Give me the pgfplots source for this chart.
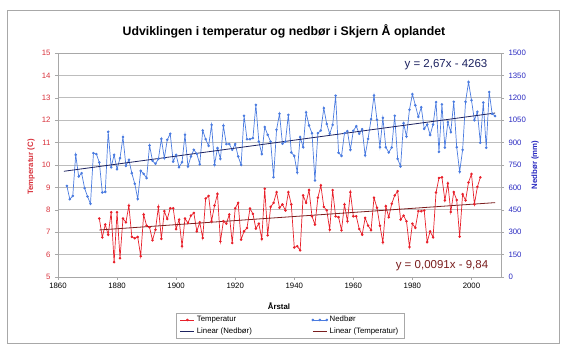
\documentclass[border=0pt]{standalone}
\usepackage{pgfplots}
\pgfplotsset{compat=1.18}
\usepackage{fontspec}
\setmainfont{Liberation Sans}
\definecolor{tempred}{HTML}{E8202A}
\definecolor{precblue}{HTML}{4A7BE0}
\definecolor{trendblue}{HTML}{1C2260}
\definecolor{trendred}{HTML}{7A1E1E}
\definecolor{lblred}{HTML}{D8303A}
\definecolor{lblblue}{HTML}{2828C0}
\definecolor{gridgray}{HTML}{BDBDBD}
\definecolor{framegray}{HTML}{A8A8A8}

\begin{document}
\begin{tikzpicture}[x=1pt,y=1pt]
\path (0,0) rectangle (570,353);
\draw[framegray, line width=0.6pt] (7,10) rectangle (559,343);

\begin{axis}[
  at={(58pt,76pt)}, anchor=south west, scale only axis,
  width=443pt, height=224pt,
  xmin=1860, xmax=2010, ymin=5, ymax=15,
  xtick={1860,1880,...,2000}, ytick={5,6,...,15},
  xtick pos=bottom, ytick pos=left,
  tick align=outside, major tick length=3pt,
  tick style={framegray, line width=0.5pt},
  axis line style={framegray, line width=0.6pt},
  ymajorgrids, grid style={gridgray, line width=0.6pt},
  /pgf/number format/assume math mode=true,
  /pgf/number format/1000 sep={},
  ticklabel style={font=\fontsize{7.8}{9}\selectfont},
  yticklabel style={text=lblred, xshift=-1pt},
  xticklabel style={text=black},
  clip=false,
]
\addplot[tempred, line width=0.7pt, mark=*, mark size=0.9pt] coordinates {
(1874,7.61) (1875,6.77) (1876,7.34) (1877,6.89) (1878,7.89) (1879,5.66) (1880,7.89) (1881,5.84) (1882,7.61) (1883,7.44)
(1884,8.19) (1885,6.79) (1886,6.73) (1887,6.79) (1888,5.93) (1889,7.79) (1890,7.29) (1891,7.22) (1892,6.64) (1893,7.11)
(1894,8.13) (1895,6.70) (1896,7.94) (1897,7.59) (1898,8.07) (1899,8.07) (1900,7.14) (1901,7.56) (1902,6.37) (1903,7.61)
(1904,7.41) (1905,7.74) (1906,7.86) (1907,7.04) (1908,7.44) (1909,6.74) (1910,8.50) (1911,8.62) (1912,7.49) (1913,8.19)
(1914,8.71) (1915,6.59) (1916,7.49) (1917,7.38) (1918,7.79) (1919,6.52) (1920,8.07) (1921,8.31) (1922,6.67) (1923,7.04)
(1924,7.19) (1925,8.06) (1926,7.82) (1927,7.16) (1928,7.38) (1929,6.70) (1930,8.94) (1931,6.86) (1932,8.13) (1933,8.31)
(1934,8.79) (1935,8.09) (1936,8.24) (1937,7.97) (1938,8.79) (1939,8.24) (1940,6.32) (1941,6.37) (1942,6.19) (1943,8.64)
(1944,8.31) (1945,8.88) (1946,7.71) (1947,7.34) (1948,8.54) (1949,9.09) (1950,8.13) (1951,7.98) (1952,7.11) (1953,8.88)
(1954,7.71) (1955,7.67) (1956,7.09) (1957,8.24) (1958,7.49) (1959,8.79) (1960,7.71) (1961,7.71) (1962,7.14) (1963,6.89)
(1964,7.64) (1965,7.29) (1966,7.09) (1967,8.54) (1968,8.09) (1969,7.29) (1970,6.55) (1971,8.16) (1972,7.67) (1973,8.27)
(1974,8.64) (1975,8.83) (1976,7.56) (1977,7.74) (1978,7.49) (1979,6.34) (1980,7.38) (1981,7.19) (1982,7.94) (1983,7.94)
(1984,7.97) (1985,6.56) (1986,7.04) (1987,6.77) (1988,8.77) (1989,9.42) (1990,9.45) (1991,8.42) (1992,9.18) (1993,7.90)
(1994,8.79) (1995,8.44) (1996,6.80) (1997,8.70) (1998,8.42) (1999,9.22) (2000,9.60) (2001,8.25) (2002,9.02) (2003,9.45)
};
\addplot[trendred, line width=0.8pt] coordinates {(1874,7.10) (2008,8.32)};
\end{axis}

\begin{axis}[
  at={(58pt,76pt)}, anchor=south west, scale only axis,
  width=443pt, height=224pt,
  xmin=1860, xmax=2010, ymin=0, ymax=1500,
  ytick={0,150,...,1500},
  axis x line=none, axis y line*=right,
  tick align=outside, major tick length=3pt,
  tick style={framegray, line width=0.5pt},
  axis line style={framegray, line width=0.6pt},
  /pgf/number format/assume math mode=true,
  /pgf/number format/1000 sep={},
  ticklabel style={font=\fontsize{7.8}{9}\selectfont},
  yticklabel style={text=lblblue, xshift=1pt},
  legend columns=2,
  legend cell align=left,
  legend style={at={(0.524,-0.2165)}, anchor=center, draw=framegray, line width=0.4pt,
    font=\fontsize{7.8}{8.5}\selectfont, inner xsep=4pt, inner ysep=1.5pt,
    /tikz/every even column/.append style={column sep=58pt}},
  legend image code/.code={\draw[#1] plot coordinates {(0pt,0pt) (7pt,0pt) (14pt,0pt)};},
  clip=false,
]
\addlegendimage{tempred, line width=0.7pt, mark=*, mark size=0.9pt, mark repeat=2, mark phase=2}
\addlegendentry{Temperatur}
\addplot[precblue, line width=0.7pt, mark=*, mark size=0.9pt] coordinates {
(1863,610) (1864,521) (1865,543) (1866,818) (1867,673) (1868,695) (1869,595) (1870,539) (1871,490) (1872,829)
(1873,823) (1874,767) (1875,566) (1876,570) (1877,972) (1878,735) (1879,818) (1880,722) (1881,796) (1882,937)
(1883,744) (1884,785) (1885,695) (1886,624) (1887,523) (1888,711) (1889,691) (1890,662) (1891,881) (1892,778)
(1893,758) (1894,791) (1895,925) (1896,796) (1897,919) (1898,959) (1899,773) (1900,818) (1901,735) (1902,769)
(1903,952) (1904,740) (1905,807) (1906,852) (1907,825) (1908,755) (1909,981) (1910,923) (1911,878) (1912,1019)
(1913,751) (1914,863) (1915,791) (1916,1013) (1917,890) (1918,890) (1919,852) (1920,890) (1921,807) (1922,751)
(1923,1080) (1924,923) (1925,923) (1926,930) (1927,1153) (1928,907) (1929,823) (1930,1004) (1931,952) (1932,907)
(1933,668) (1934,986) (1935,1093) (1936,892) (1937,907) (1938,1086) (1939,834) (1940,811) (1941,700) (1942,937)
(1943,869) (1944,1102) (1945,1015) (1946,963) (1947,646) (1948,963) (1949,981) (1950,1131) (1951,1024) (1952,959)
(1953,1019) (1954,1214) (1955,832) (1956,811) (1957,963) (1958,977) (1959,852) (1960,979) (1961,1010) (1962,959)
(1963,990) (1964,814) (1965,925) (1966,1057) (1967,1216) (1968,1053) (1969,869) (1970,1065) (1971,869) (1972,834)
(1973,867) (1974,1080) (1975,791) (1976,740) (1977,1030) (1978,941) (1979,1120) (1980,1225) (1981,1150) (1982,1072)
(1983,1137) (1984,992) (1985,1021) (1986,951) (1987,1021) (1988,1171) (1989,838) (1990,1156) (1991,866) (1992,1037)
(1993,970) (1994,1173) (1995,869) (1996,705) (1997,851) (1998,1173) (1999,1305) (2000,1184) (2001,1050) (2002,1106)
(2003,899) (2004,1168) (2005,866) (2006,1239) (2007,1093) (2008,1078)
};
\addlegendentry{Nedbør}
\addplot[trendblue, line width=0.8pt] coordinates {(1862,708) (2008,1098)};
\addlegendentry{Linear (Nedbør)}
\addlegendimage{trendred, line width=0.8pt}
\addlegendentry{Linear (Temperatur)}
\end{axis}

\node[font=\fontsize{12.3}{14}\selectfont\bfseries] at (284,322) {Udviklingen i temperatur og nedbør i Skjern Å oplandet};
\node[rotate=90, font=\fontsize{7.8}{9}\selectfont\bfseries, text=lblred] at (31,186) {Temperatur (C)};
\node[rotate=90, font=\fontsize{7.8}{9}\selectfont\bfseries, text=lblblue] at (535,188) {Nedbør (mm)};
\node[font=\fontsize{7.8}{9}\selectfont\bfseries] at (279,46.5) {Årstal};
\node[fill=white, inner sep=1pt, text=trendblue, font=\fontsize{11.5}{13}\selectfont] at (446,288) {y = 2,67x - 4263};
\node[fill=white, inner sep=1pt, text=trendred, font=\fontsize{11.5}{13}\selectfont] at (442,87) {y = 0,0091x - 9,84};
\end{tikzpicture}
\end{document}
